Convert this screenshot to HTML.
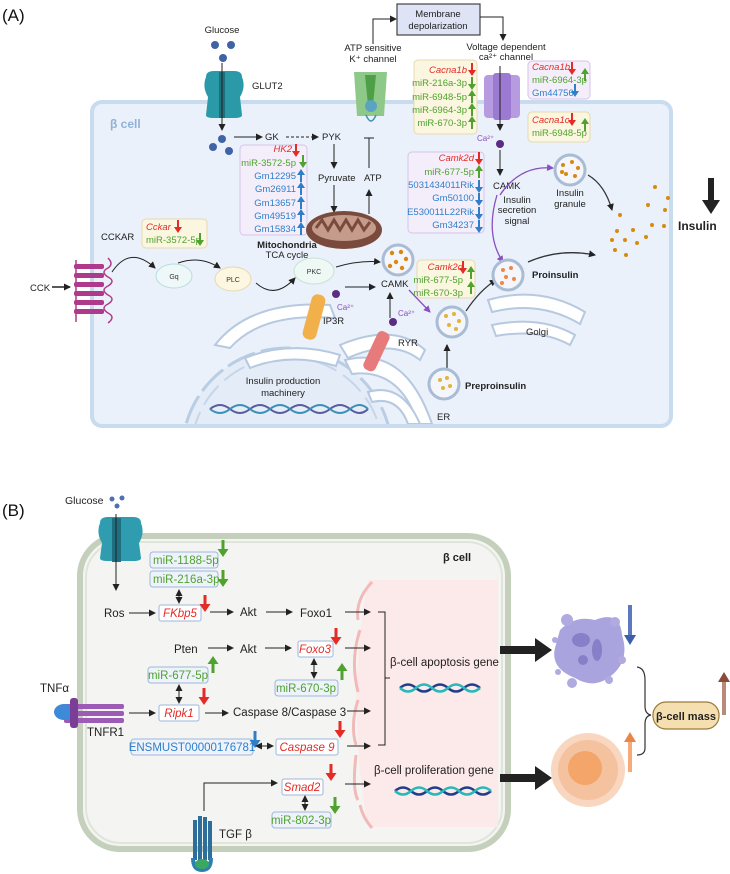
<!DOCTYPE html>
<html><head><meta charset="utf-8"><style>
html,body{margin:0;padding:0;background:#fff}
svg{display:block;font-family:"Liberation Sans",sans-serif}
.t{font-size:9.5px;fill:#222}
.g{fill:#4fa22e}.b{fill:#2f7fc8}.r{fill:#e42b25;font-style:italic}
.bt{font-size:11.5px;fill:#222}
</style></head><body>
<svg width="730" height="874" viewBox="0 0 730 874">
<defs>
<marker id="ah" markerWidth="8" markerHeight="8" refX="6" refY="4" orient="auto" markerUnits="userSpaceOnUse"><path d="M0,0.5 L7,4 L0,7.5z" fill="#222"/></marker>
<marker id="ap" markerWidth="8" markerHeight="8" refX="6" refY="4" orient="auto" markerUnits="userSpaceOnUse"><path d="M0,0.5 L7,4 L0,7.5z" fill="#8a4fc0"/></marker>
<marker id="ad" markerWidth="8" markerHeight="8" refX="4" refY="4" orient="auto-start-reverse" markerUnits="userSpaceOnUse"><path d="M0,0.5 L7,4 L0,7.5z" fill="#222"/></marker>
<symbol id="dn" overflow="visible"><path d="M-1,0 h2 v7 h3 l-4,6 l-4,-6 h3z"/></symbol>
<symbol id="up" overflow="visible"><path d="M-1,13 h2 v-7 h3 l-4,-6 l-4,6 h3z"/></symbol>
<symbol id="DN" overflow="visible"><path d="M-1.5,0 h3 v9 h4 l-5.5,8 l-5.5,-8 h4z"/></symbol>
<symbol id="UP" overflow="visible"><path d="M-1.5,17 h3 v-9 h4 l-5.5,-8 l-5.5,8 h4z"/></symbol>
<symbol id="ves" overflow="visible"><circle r="15" fill="#f4f6fb" stroke="#a9bcd6" stroke-width="3"/></symbol>
<clipPath id="cellA"><rect x="94" y="104" width="575" height="320" rx="9"/></clipPath>
</defs>

<!-- ===== (A) ===== -->
<text x="2" y="21" font-size="17" fill="#111">(A)</text>
<rect x="92" y="102" width="579" height="324" rx="10" fill="#eaf1fa" stroke="#c9dcef" stroke-width="4"/>
<text x="110" y="128" font-size="12" font-weight="bold" fill="#8fb2da">β cell</text>

<!-- nucleus / ER / Golgi -->
<g clip-path="url(#cellA)">
<circle cx="287" cy="453" r="105" fill="#e3ecf7" stroke="#b9cde4" stroke-width="3" stroke-dasharray="30,6"/>
<circle cx="287" cy="453" r="96" fill="none" stroke="#c6d6ea" stroke-width="2" stroke-dasharray="24,8"/>
<g fill="#fff" stroke="#b6c9e0" stroke-width="2">
<path d="M215,345 Q250,300 330,305 L335,318 Q262,312 230,348z"/>
<path d="M245,358 Q290,340 340,355 L336,366 Q290,352 250,368z"/>
<path d="M340,345 Q395,322 425,350 L420,360 Q392,338 348,358z"/>
<path d="M345,360 Q405,345 432,424 L418,424 Q400,368 352,374z"/>
<path d="M368,392 Q402,382 420,424 L408,424 Q398,396 372,402z"/>
<path d="M488,300 Q540,285 585,312 L580,324 Q540,300 492,312z"/>
<path d="M492,325 Q540,315 575,335 L570,345 Q540,328 496,336z"/>
</g>
</g>
<path d="M210,409 q10,-8 20,0 t20,0 t20,0 t20,0 t20,0 t20,0 t20,0 t18,0" fill="none" stroke="#5a5a9e" stroke-width="2"/>
<path d="M210,409 q10,8 20,0 t20,0 t20,0 t20,0 t20,0 t20,0 t20,0 t18,0" fill="none" stroke="#3a8fb5" stroke-width="2"/>
<text x="283" y="384" class="t" text-anchor="middle">Insulin production</text>
<text x="283" y="396" class="t" text-anchor="middle">machinery</text>

<!-- glucose / GLUT2 -->
<text x="222" y="33" class="t" text-anchor="middle">Glucose</text>
<g fill="#3f63a6"><circle cx="215" cy="45" r="4"/><circle cx="231" cy="45" r="4"/><circle cx="223" cy="58" r="4"/>
<circle cx="222" cy="139" r="4"/><circle cx="213" cy="147" r="4"/><circle cx="229" cy="151" r="4"/></g>
<path d="M206,77 q0,-6 8,-6 h20 q8,0 8,6 q4,10 -2,20 l2,18 q0,3 -8,3 h-20 q-8,0 -8,-3 l2,-18 q-6,-10 -2,-20z" fill="#2b9aa8"/>
<rect x="219" y="72" width="6" height="46" fill="#1d6f7c"/>
<line x1="222" y1="63" x2="222" y2="130" stroke="#222" marker-end="url(#ah)"/>
<text x="252" y="89" class="t">GLUT2</text>

<!-- K channel -->
<text x="373" y="51" class="t" text-anchor="middle">ATP sensitive</text>
<text x="373" y="62" class="t" text-anchor="middle">K⁺ channel</text>
<path d="M354,72 h33 l-3,44 h-27z" fill="#8ec98a"/>
<path d="M365,75 h11 l-3,30 h-5z" fill="#4f9e48"/>
<circle cx="371" cy="106" r="6" fill="#5aa3c2"/>
<path d="M366,115 q5,12 10,0" fill="none" stroke="#3a8fb5" stroke-width="1.5"/>
<path d="M373,44 V19 H396" fill="none" stroke="#222" marker-end="url(#ah)"/>
<rect x="397" y="4" width="83" height="31" fill="#dfe3f6" stroke="#444" stroke-width="1.2"/>
<text x="438" y="17" class="t" text-anchor="middle">Membrane</text>
<text x="438" y="29" class="t" text-anchor="middle">depolarization</text>
<path d="M480,17 H503 V40" fill="none" stroke="#222" marker-end="url(#ah)"/>
<text x="506" y="50" class="t" text-anchor="middle">Voltage dependent</text>
<text x="506" y="60" class="t" text-anchor="middle">ca²⁺ channel</text>

<!-- Ca channel -->
<rect x="484" y="75" width="36" height="43" rx="4" fill="#b79be0"/>
<rect x="493" y="73" width="18" height="47" rx="3" fill="#9c7ad2"/>
<line x1="500" y1="66" x2="500" y2="130" stroke="#222" marker-end="url(#ah)"/>

<!-- Cacna boxes -->
<rect x="414" y="60" width="63" height="74" rx="4" fill="#fbf6df" stroke="#e5d9b0"/>
<g class="t" text-anchor="end" font-size="9.5">
<text x="467" y="73" class="r">Cacna1b</text>
<text x="467" y="86" class="g">miR-216a-3p</text>
<text x="467" y="100" class="g">miR-6948-5p</text>
<text x="467" y="113" class="g">miR-6964-3p</text>
<text x="467" y="126" class="g">miR-670-3p</text></g>
<use href="#dn" x="472" y="63" fill="#e42b25"/><use href="#dn" x="472" y="77" fill="#4fa22e"/>
<use href="#up" x="472" y="90" fill="#4fa22e"/><use href="#up" x="472" y="103" fill="#4fa22e"/><use href="#up" x="472" y="116" fill="#4fa22e"/>

<rect x="528" y="61" width="62" height="38" rx="4" fill="#f4eefb" stroke="#d6c3ea"/>
<text x="532" y="70" class="t r">Cacna1b</text>
<text x="532" y="83" class="t g">miR-6964-3p</text>
<text x="532" y="96" class="t b">Gm44756</text>
<use href="#dn" x="572" y="62" fill="#e42b25"/><use href="#up" x="585" y="68" fill="#4fa22e"/><use href="#dn" x="575" y="84" fill="#2f7fc8"/>
<rect x="528" y="112" width="62" height="30" rx="4" fill="#fbf6df" stroke="#e5d9b0"/>
<text x="532" y="123" class="t r">Cacna1c</text>
<text x="532" y="136" class="t g">miR-6948-5p</text>
<use href="#dn" x="572" y="113" fill="#e42b25"/><use href="#up" x="585" y="118" fill="#4fa22e"/>

<text x="477" y="141" font-size="8" fill="#8a4fc0">Ca²⁺</text>
<circle cx="500" cy="144" r="4" fill="#5b2c83"/>
<line x1="500" y1="150" x2="500" y2="175" stroke="#222" marker-end="url(#ah)"/>
<text x="493" y="189" class="t">CAMK</text>
<text x="517" y="203" class="t" text-anchor="middle" fill="#8a4fc0">Insulin</text>
<text x="517" y="213" class="t" text-anchor="middle" fill="#8a4fc0">secretion</text>
<text x="517" y="224" class="t" text-anchor="middle" fill="#8a4fc0">signal</text>
<path d="M500,195 Q520,165 553,168" fill="none" stroke="#8a4fc0" stroke-width="1.3" marker-end="url(#ap)"/>
<path d="M497,195 Q485,235 503,262" fill="none" stroke="#8a4fc0" stroke-width="1.3" marker-end="url(#ap)"/>
<use href="#ves" x="570" y="170"/>
<g fill="#d88a10"><circle cx="563" cy="165" r="2"/><circle cx="572" cy="162" r="2"/><circle cx="578" cy="168" r="2"/><circle cx="566" cy="174" r="2"/><circle cx="575" cy="176" r="2"/><circle cx="562" cy="172" r="2"/></g>
<text x="570" y="196" class="t" text-anchor="middle">Insulin</text>
<text x="570" y="207" class="t" text-anchor="middle">granule</text>
<path d="M588,175 Q605,185 612,210" fill="none" stroke="#333" stroke-width="1.3" marker-end="url(#ah)"/>
<g fill="#d88a10"><circle cx="620" cy="215" r="2"/><circle cx="655" cy="187" r="2"/><circle cx="668" cy="198" r="2"/><circle cx="648" cy="205" r="2"/><circle cx="665" cy="210" r="2"/><circle cx="652" cy="225" r="2"/><circle cx="664" cy="226" r="2"/><circle cx="617" cy="231" r="2"/><circle cx="633" cy="230" r="2"/><circle cx="612" cy="240" r="2"/><circle cx="625" cy="240" r="2"/><circle cx="637" cy="243" r="2"/><circle cx="646" cy="237" r="2"/><circle cx="615" cy="250" r="2"/><circle cx="626" cy="255" r="2"/></g>
<text x="678" y="230" font-size="12" font-weight="bold" fill="#222">Insulin</text>
<path d="M708,178 h6 v22 h6 l-9,14 l-9,-14 h6z" fill="#222"/>

<!-- GK PYK -->
<line x1="234" y1="137" x2="262" y2="137" stroke="#222" marker-end="url(#ah)"/>
<text x="265" y="140" class="t">GK</text>
<line x1="286" y1="137" x2="318" y2="137" stroke="#222" stroke-dasharray="3,2" marker-end="url(#ah)"/>
<text x="322" y="140" class="t">PYK</text>
<line x1="334" y1="144" x2="334" y2="168" stroke="#222" marker-end="url(#ah)"/>
<text x="318" y="181" class="t">Pyruvate</text>
<line x1="334" y1="185" x2="334" y2="212" stroke="#222" marker-end="url(#ah)"/>
<text x="364" y="181" class="t">ATP</text>
<line x1="369" y1="214" x2="369" y2="190" stroke="#222" marker-end="url(#ah)"/>
<line x1="369" y1="168" x2="369" y2="138" stroke="#222"/><line x1="364" y1="138" x2="374" y2="138" stroke="#222"/>

<!-- HK2 box -->
<rect x="240" y="145" width="67" height="90" rx="4" fill="#f4eefb" stroke="#d6c3ea"/>
<g font-size="9.5" text-anchor="end">
<text x="292" y="152" class="r">HK2</text>
<text x="296" y="166" class="g">miR-3572-5p</text>
<text x="296" y="179" class="b">Gm12295</text>
<text x="296" y="192" class="b">Gm26911</text>
<text x="296" y="206" class="b">Gm13657</text>
<text x="296" y="219" class="b">Gm49519</text>
<text x="296" y="232" class="b">Gm15834</text></g>
<use href="#dn" x="296" y="144" fill="#e42b25"/><use href="#dn" x="303" y="155" fill="#4fa22e"/>
<use href="#up" x="301" y="169" fill="#2f7fc8"/><use href="#up" x="301" y="182" fill="#2f7fc8"/><use href="#up" x="301" y="196" fill="#2f7fc8"/><use href="#up" x="301" y="209" fill="#2f7fc8"/><use href="#up" x="301" y="222" fill="#2f7fc8"/>

<!-- mitochondria -->
<ellipse cx="344" cy="230" rx="38" ry="19" fill="#7a4a3c"/>
<ellipse cx="344" cy="228" rx="32" ry="13" fill="#c59c8c"/>
<path d="M316,228 l6,-8 l6,10 l6,-10 l6,10 l6,-10 l6,10 l6,-10 l6,10 l6,-8" fill="none" stroke="#7a4a3c" stroke-width="3"/>
<text x="287" y="248" class="t" text-anchor="middle" font-weight="bold">Mitochondria</text>
<text x="287" y="258" class="t" text-anchor="middle">TCA cycle</text>

<!-- Camk2d box -->
<rect x="408" y="152" width="76" height="81" rx="4" fill="#f4eefb" stroke="#d6c3ea"/>
<g font-size="9.5" text-anchor="end">
<text x="474" y="161" class="r">Camk2d</text>
<text x="474" y="175" class="g">miR-677-5p</text>
<text x="474" y="188" class="b">5031434011Rik</text>
<text x="474" y="201" class="b">Gm50100</text>
<text x="474" y="215" class="b">E530011L22Rik</text>
<text x="474" y="228" class="b">Gm34237</text></g>
<use href="#dn" x="479" y="152" fill="#e42b25"/><use href="#up" x="479" y="165" fill="#4fa22e"/>
<use href="#dn" x="479" y="180" fill="#2f7fc8"/><use href="#dn" x="479" y="193" fill="#2f7fc8"/><use href="#dn" x="479" y="207" fill="#2f7fc8"/><use href="#dn" x="479" y="220" fill="#2f7fc8"/>

<!-- CCK path -->
<rect x="142" y="219" width="65" height="29" rx="4" fill="#fbf6df" stroke="#e5d9b0"/>
<text x="146" y="230" class="t r">Cckar</text>
<text x="146" y="243" class="t g">miR-3572-5p</text>
<use href="#dn" x="178" y="220" fill="#e42b25"/><use href="#dn" x="200" y="233" fill="#4fa22e"/>
<text x="101" y="240" class="t">CCKAR</text>
<text x="30" y="291" class="t">CCK</text>
<line x1="52" y1="287" x2="70" y2="287" stroke="#222" stroke-width="1.5" marker-end="url(#ah)"/>
<g fill="#b03a8a"><rect x="74" y="264" width="30" height="5" rx="2"/><rect x="74" y="273" width="30" height="5" rx="2"/><rect x="74" y="282" width="30" height="5" rx="2"/><rect x="74" y="291" width="30" height="5" rx="2"/><rect x="74" y="300" width="30" height="5" rx="2"/><rect x="74" y="309" width="30" height="5" rx="2"/></g>
<path d="M108,258 q6,6 0,10 q-8,4 0,9 q8,4 0,9 q-8,4 0,9 q8,4 0,9 q-8,4 0,9 q8,4 0,10 M76,260 v62" fill="none" stroke="#b03a8a" stroke-width="1.5"/>
<path d="M112,272 Q130,245 155,268" fill="none" stroke="#222" marker-end="url(#ah)"/>
<ellipse cx="174" cy="276" rx="18" ry="12" fill="#eef8f8" stroke="#b8dcdc"/><text x="174" y="279" font-size="7" text-anchor="middle" fill="#333">Gq</text>
<path d="M178,263 Q200,255 220,268" fill="none" stroke="#222" marker-end="url(#ah)"/>
<ellipse cx="233" cy="279" rx="18" ry="12" fill="#fdf7e2" stroke="#e5d9b0"/><text x="233" y="282" font-size="7" text-anchor="middle" fill="#333">PLC</text>
<path d="M256,283 Q275,300 295,278" fill="none" stroke="#222" marker-end="url(#ah)"/>
<ellipse cx="314" cy="271" rx="20" ry="13" fill="#eef8f4" stroke="#c6e2d6"/><text x="314" y="274" font-size="7" text-anchor="middle" fill="#333">PKC</text>
<path d="M336,267 Q360,260 380,262" fill="none" stroke="#222" marker-end="url(#ah)"/>
<use href="#ves" x="398" y="260"/>
<g fill="#d88a10"><circle cx="392" cy="253" r="2.2"/><circle cx="401" cy="252" r="2.2"/><circle cx="406" cy="259" r="2.2"/><circle cx="396" cy="262" r="2.2"/><circle cx="390" cy="266" r="2.2"/><circle cx="402" cy="268" r="2.2"/></g>
<text x="381" y="287" class="t">CAMK</text>
<circle cx="336" cy="294" r="4" fill="#5b2c83"/><text x="337" y="310" font-size="8" fill="#8a4fc0">Ca²⁺</text>
<line x1="345" y1="287" x2="375" y2="287" stroke="#222" marker-end="url(#ah)"/>
<line x1="390" y1="318" x2="390" y2="293" stroke="#222" marker-end="url(#ah)"/>
<circle cx="393" cy="322" r="4" fill="#5b2c83"/><text x="398" y="316" font-size="8" fill="#8a4fc0">Ca²⁺</text>
<path d="M409,290 L430,312" stroke="#8a4fc0" stroke-width="1.3" marker-end="url(#ap)"/>
<rect x="307" y="294" width="14" height="46" rx="6" fill="#f2b04a" transform="rotate(15 314 317)"/>
<text x="323" y="324" class="t">IP3R</text>
<rect x="370" y="330" width="13" height="42" rx="5" fill="#e77a7a" transform="rotate(25 376 351)"/>
<text x="398" y="346" class="t">RYR</text>

<rect x="417" y="260" width="58" height="38" rx="4" fill="#fbf6df" stroke="#e5d9b0"/>
<text x="463" y="270" class="t r" text-anchor="end">Camk2d</text>
<text x="463" y="283" class="t g" text-anchor="end">miR-677-5p</text>
<text x="463" y="296" class="t g" text-anchor="end">miR-670-3p</text>
<use href="#dn" x="463" y="261" fill="#e42b25"/><use href="#up" x="471" y="266" fill="#4fa22e"/><use href="#up" x="471" y="281" fill="#4fa22e"/>

<use href="#ves" x="452" y="322"/>
<g fill="#e2b43a"><circle cx="446" cy="316" r="2"/><circle cx="454" cy="314" r="2"/><circle cx="459" cy="321" r="2"/><circle cx="449" cy="325" r="2"/><circle cx="456" cy="329" r="2"/></g>
<path d="M466,311 Q480,290 496,280" fill="none" stroke="#333" stroke-width="1.3" marker-end="url(#ah)"/>
<use href="#ves" x="508" y="275"/>
<g fill="#f0864a"><circle cx="503" cy="270" r="2"/><circle cx="511" cy="268" r="2"/><circle cx="506" cy="277" r="2"/><circle cx="514" cy="279" r="2"/><circle cx="502" cy="283" r="2"/></g>
<text x="532" y="278" class="t" font-weight="bold">Proinsulin</text>
<path d="M528,262 Q560,248 595,255" fill="none" stroke="#333" stroke-width="1.3" marker-end="url(#ah)"/>
<text x="526" y="335" class="t">Golgi</text>
<line x1="447" y1="370" x2="447" y2="345" stroke="#333" stroke-width="1.3" marker-end="url(#ah)"/>
<use href="#ves" x="444" y="384"/>
<g fill="#e2b43a"><circle cx="440" cy="380" r="2"/><circle cx="447" cy="378" r="2"/><circle cx="443" cy="388" r="2"/><circle cx="450" cy="386" r="2"/></g>
<text x="465" y="389" class="t" font-weight="bold">Preproinsulin</text>
<text x="437" y="420" class="t">ER</text>

<!-- ===== (B) ===== -->
<text x="2" y="516" font-size="17" fill="#111">(B)</text>
<text x="65" y="504" font-size="10.5" fill="#222">Glucose</text>
<g fill="#4f6fb2"><circle cx="112" cy="499" r="2.5"/><circle cx="122" cy="498" r="2.5"/><circle cx="117" cy="506" r="2.5"/></g>
<rect x="80" y="536" width="428" height="313" rx="40" fill="#f4f5f2" stroke="#c4d0bb" stroke-width="6"/>
<rect x="86" y="542" width="416" height="301" rx="35" fill="none" stroke="#dfe5d8" stroke-width="2"/>
<path d="M368,580 H498 V827 H368 Q345,700 368,580z" fill="#fce9e9"/>
<g fill="none" stroke="#f2b9b9" stroke-width="3">
<path d="M372,582 Q355,600 358,620"/><path d="M360,630 Q350,660 358,692"/><path d="M358,700 Q350,725 356,745"/><path d="M356,755 Q352,790 358,800"/><path d="M360,805 Q363,818 372,828"/></g>
<text x="443" y="561" font-size="11" font-weight="bold" fill="#222">β cell</text>
<path d="M100,523 q0,-6 8,-6 h25 q8,0 8,6 q4,10 -2,20 l2,15 q0,3 -8,3 h-25 q-8,0 -8,-3 l2,-15 q-6,-10 -2,-20z" fill="#2f9cb0"/>
<rect x="112" y="518" width="9" height="44" fill="#1e6f80"/>
<line x1="116" y1="514" x2="116" y2="590" stroke="#222" marker-end="url(#ah)"/>

<g font-size="11.5">
<rect x="150" y="552" width="68" height="16" rx="3" fill="#eef3fb" stroke="#9db6dc"/><text x="153" y="564" class="g">miR-1188-5p</text>
<rect x="150" y="571" width="68" height="16" rx="3" fill="#eef3fb" stroke="#9db6dc"/><text x="153" y="583" class="g">miR-216a-3p</text>
<rect x="159" y="605" width="42" height="16" rx="2" fill="#fff" stroke="#9db6dc"/><text x="180" y="617" class="r" text-anchor="middle">FKbp5</text>
<rect x="298" y="641" width="35" height="16" rx="2" fill="#fff" stroke="#9db6dc"/><text x="315" y="653" class="r" text-anchor="middle">Foxo3</text>
<rect x="148" y="667" width="60" height="16" rx="3" fill="#eef3fb" stroke="#9db6dc"/><text x="178" y="679" class="g" text-anchor="middle">miR-677-5p</text>
<rect x="275" y="680" width="63" height="16" rx="3" fill="#eef3fb" stroke="#9db6dc"/><text x="306" y="692" class="g" text-anchor="middle">miR-670-3p</text>
<rect x="159" y="705" width="40" height="16" rx="2" fill="#fff" stroke="#9db6dc"/><text x="179" y="717" class="r" text-anchor="middle">Ripk1</text>
<rect x="131" y="739" width="122" height="16" rx="3" fill="#eef3fb" stroke="#9db6dc"/><text x="192" y="751" class="b" text-anchor="middle">ENSMUST00000176781</text>
<rect x="276" y="739" width="62" height="16" rx="2" fill="#fff" stroke="#9db6dc"/><text x="307" y="751" class="r" text-anchor="middle">Caspase 9</text>
<rect x="282" y="779" width="41" height="16" rx="2" fill="#fff" stroke="#9db6dc"/><text x="302" y="791" class="r" text-anchor="middle">Smad2</text>
<rect x="272" y="812" width="59" height="16" rx="3" fill="#eef3fb" stroke="#9db6dc"/><text x="301" y="824" class="g" text-anchor="middle">miR-802-3p</text>
</g>
<use href="#DN" x="223" y="540" fill="#4fa22e"/><use href="#DN" x="223" y="570" fill="#4fa22e"/>
<use href="#DN" x="205" y="595" fill="#e42b25"/><use href="#DN" x="336" y="628" fill="#e42b25"/>
<use href="#UP" x="213" y="656" fill="#4fa22e"/><use href="#UP" x="342" y="663" fill="#4fa22e"/>
<use href="#DN" x="204" y="688" fill="#e42b25"/><use href="#DN" x="255" y="731" fill="#2f7fc8"/>
<use href="#DN" x="340" y="721" fill="#e42b25"/><use href="#DN" x="331" y="764" fill="#e42b25"/>
<use href="#DN" x="335" y="797" fill="#4fa22e"/>

<g class="bt">
<text x="104" y="617">Ros</text><text x="240" y="616">Akt</text><text x="300" y="617">Foxo1</text>
<text x="174" y="653">Pten</text><text x="240" y="653">Akt</text>
<text x="233" y="716">Caspase 8/Caspase 3</text>
<text x="40" y="692">TNFα</text><text x="87" y="736">TNFR1</text><text x="219" y="838">TGF β</text>
<text x="390" y="666">β-cell apoptosis gene</text>
<text x="374" y="774">β-cell proliferation gene</text>
</g>
<g stroke="#222" fill="none">
<line x1="129" y1="613" x2="155" y2="613" marker-end="url(#ah)"/>
<line x1="210" y1="612" x2="233" y2="612" marker-end="url(#ah)"/>
<line x1="266" y1="612" x2="292" y2="612" marker-end="url(#ah)"/>
<line x1="208" y1="648" x2="233" y2="648" marker-end="url(#ah)"/>
<line x1="265" y1="648" x2="291" y2="648" marker-end="url(#ah)"/>
<line x1="129" y1="713" x2="155" y2="713" marker-end="url(#ah)"/>
<line x1="205" y1="713" x2="228" y2="713" marker-end="url(#ah)"/>
<line x1="345" y1="612" x2="370" y2="612" marker-end="url(#ah)"/>
<line x1="345" y1="648" x2="370" y2="648" marker-end="url(#ah)"/>
<line x1="347" y1="711" x2="370" y2="711" marker-end="url(#ah)"/>
<line x1="347" y1="746" x2="370" y2="746" marker-end="url(#ah)"/>
<line x1="345" y1="784" x2="370" y2="784" marker-end="url(#ah)"/>
<line x1="179" y1="592" x2="179" y2="601" marker-start="url(#ad)" marker-end="url(#ad)"/>
<line x1="179" y1="687" x2="179" y2="701" marker-start="url(#ad)" marker-end="url(#ad)"/>
<line x1="314" y1="661" x2="314" y2="676" marker-start="url(#ad)" marker-end="url(#ad)"/>
<line x1="258" y1="746" x2="271" y2="746" marker-start="url(#ad)" marker-end="url(#ad)"/>
<line x1="305" y1="798" x2="305" y2="808" marker-start="url(#ad)" marker-end="url(#ad)"/>
<path d="M204,811 V783 H277" marker-end="url(#ah)"/>
<path d="M378,612 H385 V745 H378 M385,678 H390"/>
</g>
<!-- DNA B -->
<g fill="none" stroke-width="2.5">
<path d="M400,688 q8,-7 16,0 t16,0 t16,0 t16,0 t16,0" stroke="#1f3f8a"/>
<path d="M400,688 q8,7 16,0 t16,0 t16,0 t16,0 t16,0" stroke="#2ab7b8"/>
<path d="M395,791 q8,-7 16,0 t16,0 t16,0 t16,0 t16,0 t16,0" stroke="#1f3f8a"/>
<path d="M395,791 q8,7 16,0 t16,0 t16,0 t16,0 t16,0 t16,0" stroke="#2ab7b8"/>
</g>
<!-- TNFR1 -->
<g>
<rect x="64" y="704" width="60" height="5" rx="2" fill="#9c5bb5"/><rect x="64" y="711" width="60" height="5" rx="2" fill="#9c5bb5"/><rect x="64" y="718" width="60" height="5" rx="2" fill="#9c5bb5"/>
<ellipse cx="64" cy="712" rx="10" ry="8" fill="#3d8ad8"/><rect x="70" y="698" width="8" height="30" rx="3" fill="#7a3e96"/>
</g>
<!-- TGF receptor -->
<g fill="#2d6f9a"><rect x="193" y="820" width="4" height="40"/><rect x="198" y="816" width="4" height="44"/><rect x="203" y="817" width="4" height="43"/><rect x="208" y="821" width="4" height="39"/></g>
<path d="M191,858 q0,14 11,14 q11,0 11,-14 l-4,0 q0,9 -7,9 q-7,0 -7,-9z" fill="#2f7fb0"/>
<ellipse cx="202" cy="864" rx="7" ry="5" fill="#3aa860"/>

<!-- right side -->
<rect x="500" y="646" width="35" height="8" fill="#222"/><path d="M535,638 L552,650 L535,662z" fill="#222"/>
<rect x="500" y="774" width="35" height="8" fill="#222"/><path d="M535,766 L552,778 L535,790z" fill="#222"/>
<path d="M560,630 Q575,615 595,620 Q620,610 622,635 Q630,660 612,675 Q595,690 575,678 Q550,668 555,648z" fill="#a9a3de"/>
<ellipse cx="581" cy="640" rx="9" ry="7" fill="#8780c8"/><ellipse cx="597" cy="650" rx="5" ry="11" fill="#8780c8"/><ellipse cx="583" cy="660" rx="5" ry="5" fill="#8780c8"/>
<g fill="#b0aae0"><circle cx="567" cy="620" r="6"/><circle cx="615" cy="622" r="5"/><circle cx="555" cy="640" r="3"/><circle cx="622" cy="660" r="4"/><circle cx="558" cy="672" r="3"/><circle cx="572" cy="683" r="5"/><circle cx="609" cy="680" r="4"/></g>
<circle cx="588" cy="770" r="37" fill="#f8d6bf"/><circle cx="588" cy="770" r="30" fill="#f5c29f"/><circle cx="585" cy="768" r="17" fill="#f3a56a"/>
<rect x="628" y="605" width="4" height="32" fill="#5b78c0"/><path d="M624,635 L630,645 L636,635z" fill="#3f5ea8"/>
<rect x="628" y="740" width="4" height="32" fill="#f7a97a"/><path d="M624,742 L630,732 L636,742z" fill="#e88548"/>
<rect x="722" y="680" width="4" height="35" fill="#b88a7a"/><path d="M718,682 L724,672 L730,682z" fill="#8a4a3c"/>
<path d="M637,667 Q645,668 645,680 V706 Q645,714 651,715 Q645,716 645,724 V748 Q645,755 637,755" fill="none" stroke="#333" stroke-width="1.2"/>
<rect x="653" y="702" width="66" height="27" rx="13" fill="#f5dfb0" stroke="#9a7a3a" stroke-width="1.2"/>
<text x="686" y="720" font-size="11" font-weight="bold" text-anchor="middle" fill="#222">β-cell mass</text>
</svg>
</body></html>
